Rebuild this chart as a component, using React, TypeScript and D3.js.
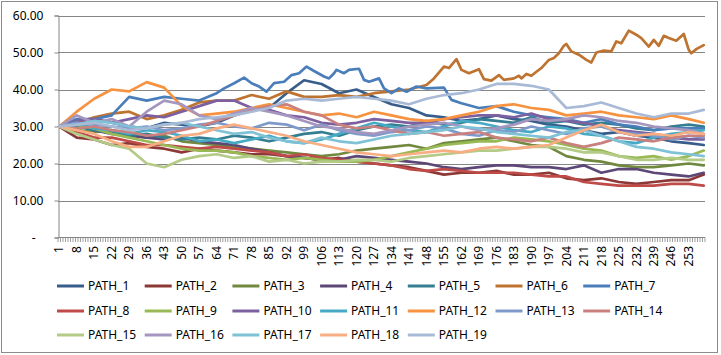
import React, { useRef, useEffect } from 'react';
import * as d3 from 'd3';

// categories 1..259 on the x axis, labelled every 7th
const days = d3.range(1, 260);
const labelDays = days.filter(d => (d - 1) % 7 === 0);

// values at these days
const sampleDays = [1, 8, 15, 22, 29, 36, 43, 50, 57, 64, 71, 78, 85, 92, 99, 106, 113, 120, 127, 134,
  141, 148, 155, 162, 169, 176, 183, 190, 197, 204, 211, 218, 225, 232, 239, 246, 253, 259];
// PATH_6 and PATH_7 stand out, so they were read more finely
const path6Days = [1, 8, 15, 22, 29, 36, 43, 50, 57, 64, 71, 78, 85, 92, 99, 106, 113, 120, 127, 134, 141,
  148, 151, 155, 157, 160, 162, 165, 169, 171, 174, 177, 179, 183, 185, 186, 188, 190, 192, 194, 197,
  199, 201, 203, 204, 206, 209, 212, 214, 216, 219, 222, 224, 226, 229, 232, 234, 237, 239, 241, 243,
  245, 248, 251, 253, 254, 256, 259];
const path7Days = [1, 8, 15, 22, 29, 36, 43, 50, 57, 64, 67, 71, 75, 78, 81, 84, 87, 91, 94, 97,
  100, 103, 107, 109, 111, 112, 115, 117, 121, 123, 125, 129, 131, 134, 137, 140, 144, 148, 155, 158,
  162, 169, 176, 183, 190, 197, 204, 211, 218, 225, 232, 239, 246, 253, 259];

const PATH_1 = [30, 31.5, 32, 31, 30, 29.5, 31, 30.5, 30, 31, 33, 34.5, 35, 39, 42.5, 41.5, 39, 40, 38, 36,
  35, 33, 32.5, 31.5, 32, 33, 32, 31.5, 30.5, 30, 29, 28, 28.5, 27.5, 27, 26, 25.5, 25];
const PATH_2 = [30, 27, 26.5, 25, 25.5, 24.5, 24, 23, 24, 23.5, 23, 22.5, 22.5, 22, 21.5, 21, 21.5, 20.5, 20, 19.5,
  19, 18, 17, 17.5, 17.5, 18, 17, 17, 17.5, 16, 15.5, 16, 15, 14.5, 15, 15.5, 15.5, 17];
const PATH_3 = [30, 29, 28.5, 29, 28, 27, 27.5, 26, 25.5, 25, 24.5, 24, 23.5, 23, 22.5, 22, 22.5, 23.5, 24, 24.5,
  25, 24, 25.5, 26, 26.5, 27, 26, 25, 24.5, 22, 21, 20.5, 19.5, 19, 19, 19.5, 20, 19.5];
const PATH_4 = [30, 30.5, 29, 28, 27.5, 27, 26.5, 27, 26, 25.5, 25, 24, 23, 22, 21.5, 21, 21, 22, 21.5, 21,
  20.5, 20, 19, 18.5, 19, 19.5, 19.5, 19, 19, 18.5, 19.5, 17.5, 18.5, 18.5, 17.5, 17, 16.5, 17.5];
const PATH_5 = [30, 30, 29, 28.5, 27.5, 28, 27, 26.5, 27, 26.5, 27.5, 27, 26, 27, 28, 28.5, 27.5, 29, 30, 30.5,
  30, 31.5, 30.5, 31, 32, 31.5, 31, 32.5, 31, 31.5, 30.5, 31, 30.5, 29.5, 29, 30, 30.5, 30];
const PATH_6 = [30, 31, 32.5, 33.5, 34, 32, 33, 34.5, 36.5, 37, 37, 38.5, 37.5, 39.5, 38, 38, 38.5, 38, 39, 39.5, 40,
  41.2, 43, 46.2, 45.8, 48.2, 45.3, 44.4, 45.5, 42.8, 42.4, 43.9, 42.6, 43, 43.7, 43, 44.2, 43.7, 44.8, 45.8, 48,
  48.5, 49.8, 51.8, 52.3, 50.3, 49.4, 48, 47.3, 50, 50.5, 50.3, 53, 52.5, 55.9, 54.8, 53.9, 51.6, 53.4, 51.8, 54.5,
  53.9, 53.2, 55, 50.7, 49.8, 50.9, 52];
const PATH_7 = [30, 32, 32, 33, 38, 37, 38, 37.5, 37, 39, 40.3, 41.7, 43.2, 41.7, 40.8, 39.4, 41.7, 42.1, 43.9, 44.4,
  46.2, 45, 43.5, 43, 44.4, 45.3, 44.4, 45.3, 45.6, 42.6, 42.1, 43, 40.3, 39, 40.3, 39.4, 40.8, 40.3, 40.5, 37.2,
  36.3, 35, 35.5, 34, 33, 32.5, 32, 31, 32, 30.5, 30, 29, 29.5, 29.5, 29.5];
const PATH_8 = [30, 28.5, 27, 27, 26, 25, 25, 24.5, 24, 24.5, 24, 23.5, 23, 22, 22.5, 21.5, 21, 20.5, 20, 19.5,
  18.5, 18, 18.5, 18, 17.5, 17.5, 17.5, 17, 16.5, 16.5, 15, 14.5, 14, 14, 14, 14.5, 14.5, 14];
const PATH_9 = [30, 30.5, 29.5, 28, 27, 26, 25, 24, 23.5, 23.5, 23, 22, 21.5, 21, 21.5, 21, 20.5, 20.5, 21, 22,
  23, 24, 25, 25.5, 26, 26, 27, 26.5, 26, 25, 24, 23.5, 22, 21.5, 22, 21, 22, 23.5];
const PATH_10 = [30, 31.5, 32, 31, 32, 33, 32.5, 34, 35.5, 37, 37, 35, 34.5, 33, 32.5, 31, 30.5, 31, 32, 31.5,
  31, 31, 32, 32.5, 33, 33, 32.5, 33.5, 32, 31.5, 31, 30, 29, 28.5, 28, 27, 26.5, 26.5];
const PATH_11 = [30, 31, 29.5, 29, 28, 29, 28.5, 27.5, 26, 26.5, 25.5, 26.5, 27.5, 26, 25.5, 26.5, 28, 29.5, 31, 30,
  29, 28.5, 30, 31.5, 31, 30, 29, 28.5, 30, 29.5, 28, 27.5, 26, 25.5, 27, 28, 28.5, 29];
const PATH_12 = [30, 34, 37.5, 40, 39.5, 42, 40.5, 35.5, 33, 33.5, 34, 35, 36, 35, 34, 33, 33.5, 32.5, 34, 33,
  32, 31.5, 32, 33, 34, 35.5, 36, 35, 34.5, 33, 33.5, 34, 33, 32.5, 32, 33, 32, 31];
const PATH_13 = [30, 31, 30.5, 30, 29.5, 30, 29, 29.5, 30.5, 31, 30, 29.5, 31, 30.5, 29, 30.5, 29, 28, 27.5, 28.5,
  29, 30, 29.5, 28, 27.5, 29, 28.5, 30, 29, 28, 29.5, 30, 28.5, 28, 27.5, 26.5, 27.5, 27];
const PATH_14 = [30, 29.5, 30, 29, 28.5, 27.5, 28, 29, 30, 31.5, 33, 34.5, 35.5, 36, 34, 33, 30.5, 29.5, 30, 29,
  28, 28.5, 27.5, 28, 28.5, 27, 26.5, 26, 27, 25.5, 24.5, 25.5, 27, 26.5, 26, 27, 27.5, 27.5];
const PATH_15 = [30, 28, 26.5, 25, 24, 20, 19, 21, 22, 22.5, 21.5, 22, 20.5, 21, 20, 20.5, 20.5, 21, 21, 20.5,
  21.5, 22, 22.5, 23, 23.5, 23.5, 24, 24.5, 24.5, 24, 23, 23, 22, 21, 21, 21.5, 21, 21];
const PATH_16 = [30, 33, 31, 32, 30, 34, 37, 36, 33, 32, 33.5, 35, 34, 33, 31.5, 30, 29.5, 28.5, 28, 29,
  30, 30.5, 31, 30, 29, 29.5, 30.5, 32, 31.5, 32, 33, 32.5, 31.5, 31, 30, 29.5, 29, 28];
const PATH_17 = [30, 30.5, 31.5, 31, 30, 29.5, 30.5, 31, 30, 29, 28, 28.5, 27, 26, 25.5, 27, 26, 25.5, 26.5, 27.5,
  28, 28.5, 29, 30, 29.5, 28.5, 28, 27.5, 27, 28.5, 29, 27.5, 26, 24.5, 24, 23, 22.5, 22];
const PATH_18 = [30, 29, 28, 26, 24.5, 24.5, 26, 27.5, 28, 29.5, 30.5, 29.5, 28.5, 27.5, 26, 25, 24, 23, 22.5, 22,
  22.5, 23, 23.5, 23, 24, 24.5, 24, 24.5, 25, 27, 29, 30.5, 28.5, 27.5, 28, 27.5, 28.5, 28];
const PATH_19 = [30, 30.5, 31, 30, 29, 29.5, 30.5, 31, 32, 32.5, 33, 34, 35, 37, 37.5, 37, 37.5, 38, 37.5, 37,
  36, 37.5, 38.5, 39, 40, 41.5, 41.5, 41, 40, 35, 35.5, 36.5, 35, 33.5, 32.5, 33.5, 33.5, 34.5];

const seriesNames = ['PATH_1', 'PATH_2', 'PATH_3', 'PATH_4', 'PATH_5', 'PATH_6', 'PATH_7', 'PATH_8', 'PATH_9', 'PATH_10',
  'PATH_11', 'PATH_12', 'PATH_13', 'PATH_14', 'PATH_15', 'PATH_16', 'PATH_17', 'PATH_18', 'PATH_19'];
const seriesValues = [PATH_1, PATH_2, PATH_3, PATH_4, PATH_5, PATH_6, PATH_7, PATH_8, PATH_9, PATH_10,
  PATH_11, PATH_12, PATH_13, PATH_14, PATH_15, PATH_16, PATH_17, PATH_18, PATH_19];
const seriesDays = seriesValues.map((_, i) => (i === 5 ? path6Days : i === 6 ? path7Days : sampleDays));
const seriesColors = ['#385D8A', '#8C3836', '#71893F', '#5C4776', '#357D91', '#BE7331', '#4A7EBB', '#BE4B48', '#98B954', '#7D60A0',
  '#46AAC5', '#F69240', '#7F9ACA', '#C9807E', '#B3CB86', '#A596BF', '#7FC2D6', '#F8AE82', '#A8BAD6'];

const yTicks = [0, 10, 20, 30, 40, 50, 60];

const W = 721, H = 355;
const FONT = '"Noto Sans", sans-serif';

const App = () => {
  const svgRef = useRef<SVGSVGElement>(null);

  useEffect(() => {
    const svg = d3.select(svgRef.current);
    svg.selectAll('*').remove();

    // chart frame
    svg.append('rect')
      .attr('x', 1.5).attr('y', 1.5)
      .attr('width', W - 5).attr('height', H - 4)
      .attr('fill', '#fff').attr('stroke', '#8c8c8c');

    const x = d3.scaleBand<number>().domain(days).range([58, 705]).padding(0);
    const y = d3.scaleLinear().domain([0, 60]).range([237.5, 15.5]);
    const cx = (d: number) => (x(d) as number) + x.bandwidth() / 2;

    // gridlines
    svg.append('g').selectAll('line')
      .data(yTicks.filter(t => t > 0))
      .join('line')
      .attr('x1', 58).attr('x2', 705)
      .attr('y1', d => Math.round(y(d)) + 0.5).attr('y2', d => Math.round(y(d)) + 0.5)
      .attr('stroke', '#868686');

    // y axis
    const yAxis = d3.axisLeft(y).tickValues(yTicks).tickSize(4)
      .tickFormat(d => (+d === 0 ? '-' : d3.format('.2f')(+d)));
    const gy = svg.append('g').attr('transform', 'translate(58.5,0)').call(yAxis);
    gy.select('.domain').attr('stroke', '#868686');
    gy.selectAll('.tick line').attr('stroke', '#868686');
    gy.selectAll('.tick text')
      .attr('x', (d: any) => (+d === 0 ? -23 : -15))
      .attr('fill', '#000').style('font', `12px ${FONT}`);

    // x axis: a tick at every category boundary, a label every 7th day
    const gx = svg.append('g');
    gx.append('line')
      .attr('x1', 58).attr('x2', 705).attr('y1', 237.5).attr('y2', 237.5)
      .attr('stroke', '#868686');
    gx.selectAll('line.tick')
      .data(days.concat([days.length + 1]))
      .join('line')
      .attr('class', 'tick')
      .attr('x1', d => 58 + (d - 1) * x.bandwidth()).attr('x2', d => 58 + (d - 1) * x.bandwidth())
      .attr('y1', 237.5).attr('y2', 242)
      .attr('stroke', '#868686').attr('stroke-width', 0.8);
    gx.selectAll('text')
      .data(labelDays)
      .join('text')
      .attr('transform', d => `translate(${cx(d)},246) rotate(-90)`)
      .attr('text-anchor', 'end')
      .attr('dy', '0.35em')
      .style('font', `12px ${FONT}`)
      .text(d => d);

    // paths
    svg.append('g').selectAll('path')
      .data(seriesValues)
      .join('path')
      .attr('d', (d, i) => d3.line<number>()
        .x((_, j) => cx(seriesDays[i][j]))
        .y(v => y(v))(d))
      .attr('fill', 'none')
      .attr('stroke', (_, i) => seriesColors[i])
      .attr('stroke-width', 2.7)
      .attr('stroke-linejoin', 'round')
      .attr('stroke-linecap', 'round');

    // legend, 7 per row
    const legend = svg.append('g').selectAll('g')
      .data(seriesNames)
      .join('g')
      .attr('transform', (_, i) => `translate(${57 + (i % 7) * 87.7},${[286, 311, 335][Math.floor(i / 7)]})`);
    legend.append('line')
      .attr('x1', 0).attr('x2', 27)
      .attr('stroke', (_, i) => seriesColors[i]).attr('stroke-width', 3);
    legend.append('text')
      .attr('x', 31).attr('dy', '0.35em')
      .style('font', `12px ${FONT}`)
      .text(d => d);
  }, []);

  return (
    <div style={{ position: 'fixed', left: 0, top: 0 }}>
      <svg ref={svgRef} width={W} height={H} style={{ display: 'block' }} />
    </div>
  );
};

export default App;
